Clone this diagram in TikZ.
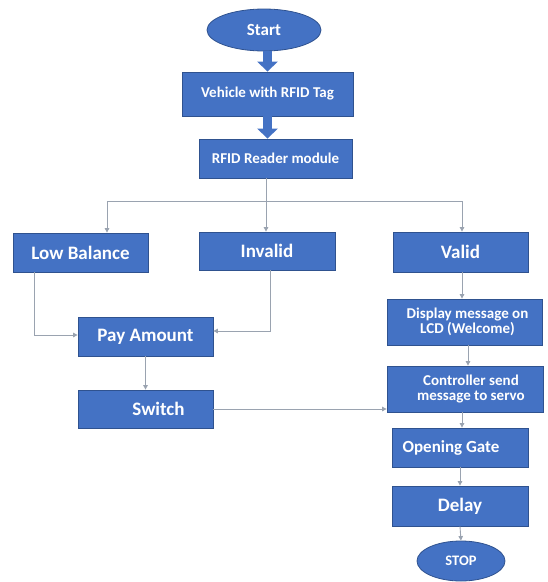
\documentclass[tikz,border=0pt]{standalone}
\usepackage{fontspec}
\setmainfont{Carlito}
\usetikzlibrary{arrows.meta,shapes.geometric}
\definecolor{boxblue}{HTML}{4472C4}
\definecolor{boxedge}{HTML}{2F528F}
\definecolor{linegrey}{HTML}{9AA3B0}
\tikzset{
  box/.style={rectangle,fill=boxblue,draw=boxedge,line width=0.8pt,inner sep=0pt,
    text=white,font=\bfseries\fontsize{#1}{#1}\selectfont,align=center},
  oval/.style={ellipse,fill=boxblue,draw=boxedge,line width=0.8pt,inner sep=0pt,
    text=white,font=\bfseries\fontsize{#1}{#1}\selectfont},
  bigarrow/.style={draw=boxblue,line width=9pt,-{Triangle[width=20pt,length=10pt]}},
  conn/.style={draw=linegrey,line width=0.9pt,-{Triangle[width=4.5pt,length=4.5pt]}},
  plain/.style={draw=linegrey,line width=0.9pt}
}
\begin{document}
\begin{tikzpicture}[x=1pt,y=-1pt]
\useasboundingbox (0,0) rectangle (548,582);
\node[oval=17,minimum width=114pt,minimum height=42pt] (start) at (264,30) {Start};
\node[box=15,minimum width=171pt,minimum height=44pt] (vehicle) at (267.5,94) {Vehicle with RFID Tag};
\node[box=15,minimum width=153pt,minimum height=39pt] (rfid) at (275.5,158.5) {RFID Reader module};
\node[box=19,minimum width=135pt,minimum height=39pt] (low) at (80.5,252.5) {Low Balance};
\node[box=19,minimum width=136pt,minimum height=38pt] (invalid) at (267,251) {Invalid};
\node[box=19,minimum width=135pt,minimum height=40pt] (valid) at (460.5,252) {Valid};
\node[box=19,minimum width=135pt,minimum height=39pt] (pay) at (145.5,336.5) {Pay Amount};
\node[box=19,minimum width=135pt,minimum height=38pt] (switch) at (145.5,409) {\hspace*{26pt}Switch};
\node[box=15,minimum width=155pt,minimum height=46pt] (display) at (464.5,322) {\hspace*{6pt}Display message on\\\hspace*{6pt}LCD (Welcome)};
\node[box=15,minimum width=156pt,minimum height=46pt] (ctrl) at (465,389) {\hspace*{12pt}Controller send\\\hspace*{12pt}message to servo};
\node[box=17,minimum width=136pt,minimum height=39pt] (open) at (460,447.5) {Opening Gate\hspace*{18pt}};
\node[box=19,minimum width=136pt,minimum height=40pt] (delay) at (460,506) {Delay};
\node[oval=14.5,minimum width=88pt,minimum height=40pt] (stop) at (461,561) {STOP};
% thick arrows
\draw[bigarrow] (vehicle.north |- start.south) -- (vehicle.north);
\draw[bigarrow] (vehicle.south) -- (vehicle.south |- rfid.north);
% branching
\coordinate (hub) at (266,201);
\coordinate (jl) at (107,201);
\coordinate (jr) at (462,201);
\draw[plain] (hub |- rfid.south) -- (hub);
\draw[conn] (hub) -- (hub |- invalid.north);
\draw[conn] (hub) -- (jl) -- (jl |- low.north);
\draw[conn] (hub) -- (jr) -- (jr |- valid.north);
% to pay
\coordinate (lb) at (34,335);
\coordinate (ib) at (270,331);
\draw[conn] (lb |- low.south) -- (lb) -- (lb -| pay.west);
\draw[conn] (ib |- invalid.south) -- (ib) -- (ib -| pay.east);
\draw[conn] (pay.south) -- (switch.north);
\draw[conn] (switch.east) -- (switch.east -| ctrl.west);
% right column
\coordinate (dc) at (468,0);
\draw[conn] (jr |- valid.south) -- (jr |- display.north);
\draw[conn] (dc |- display.south) -- (dc |- ctrl.north);
\draw[conn] (jr |- ctrl.south) -- (jr |- open.north);
\draw[conn] (open.south) -- (delay.north);
\draw[conn] (delay.south) -- (stop.north);
\end{tikzpicture}
\end{document}
